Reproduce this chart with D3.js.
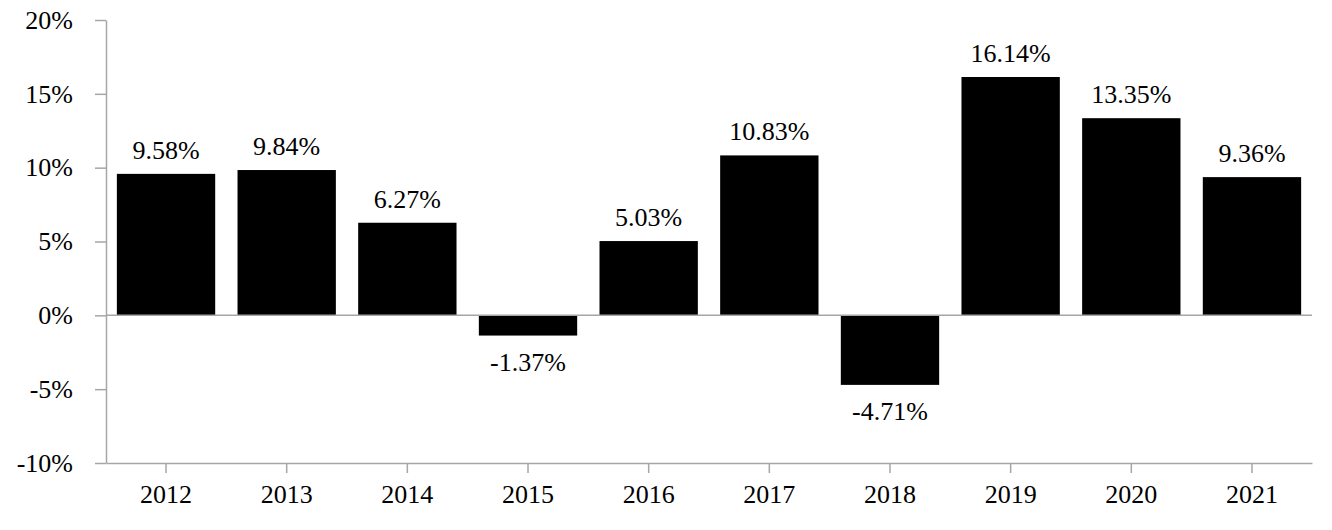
<!DOCTYPE html>
<html>
<head>
<meta charset="utf-8">
<script src="https://cdn.jsdelivr.net/npm/d3@7"></script>
<style>
  body { margin: 0; background: #fff; }
  text { font-family: "Liberation Serif", "Times New Roman", serif; }
</style>
</head>
<body>
<div id="chart"></div>
<script>
const years = ['2012', '2013', '2014', '2015', '2016', '2017', '2018', '2019', '2020', '2021'];
const returns = [9.58, 9.84, 6.27, -1.37, 5.03, 10.83, -4.71, 16.14, 13.35, 9.36];
const yTicks = [-10, -5, 0, 5, 10, 15, 20];

const width = 1332;
const height = 530;
const margin = { top: 20, right: 20, bottom: 67, left: 106 };
const axisColor = '#a6a6a6';
const fontSize = 26;

const svg = d3.select('#chart').append('svg')
    .attr('width', width)
    .attr('height', height);

const x = d3.scaleBand()
    .domain(years)
    .range([margin.left, width - margin.right])
    .paddingInner(0.185)
    .paddingOuter(0.09);

const y = d3.scaleLinear()
    .domain([-10, 20])
    .range([height - margin.bottom, margin.top]);

// bars
svg.append('g')
    .selectAll('rect')
    .data(years)
    .join('rect')
    .attr('x', d => x(d))
    .attr('width', x.bandwidth())
    .attr('y', (d, i) => y(Math.max(0, returns[i])))
    .attr('height', (d, i) => Math.abs(y(returns[i]) - y(0)))
    .attr('fill', '#000');

// zero line
svg.append('line')
    .attr('x1', margin.left)
    .attr('x2', width - margin.right)
    .attr('y1', y(0))
    .attr('y2', y(0))
    .attr('stroke', axisColor)
    .attr('stroke-width', 1.5);

// y axis
const yAxis = svg.append('g')
    .attr('transform', `translate(${margin.left},0)`)
    .call(d3.axisLeft(y)
        .tickValues(yTicks)
        .tickFormat(d => d + '%')
        .tickSize(11)
        .tickSizeOuter(0)
        .tickPadding(22));

// x axis
const xAxis = svg.append('g')
    .attr('transform', `translate(0,${y(-10)})`)
    .call(d3.axisBottom(x)
        .tickSize(10)
        .tickSizeOuter(0)
        .tickPadding(12));

[yAxis, xAxis].forEach(g => {
    g.selectAll('path, line').attr('stroke', axisColor).attr('stroke-width', 1.5);
    g.selectAll('text')
        .attr('fill', '#000')
        .style('font-size', fontSize + 'px')
        .style('font-family', '"Liberation Serif", "Times New Roman", serif');
});

// value labels
svg.append('g')
    .selectAll('text')
    .data(years)
    .join('text')
    .attr('x', d => x(d) + x.bandwidth() / 2)
    .attr('y', (d, i) => returns[i] >= 0 ? y(returns[i]) - 15 : y(returns[i]) + 35)
    .attr('text-anchor', 'middle')
    .attr('font-size', fontSize)
    .attr('fill', '#000')
    .text((d, i) => returns[i].toFixed(2) + '%');
</script>
</body>
</html>
